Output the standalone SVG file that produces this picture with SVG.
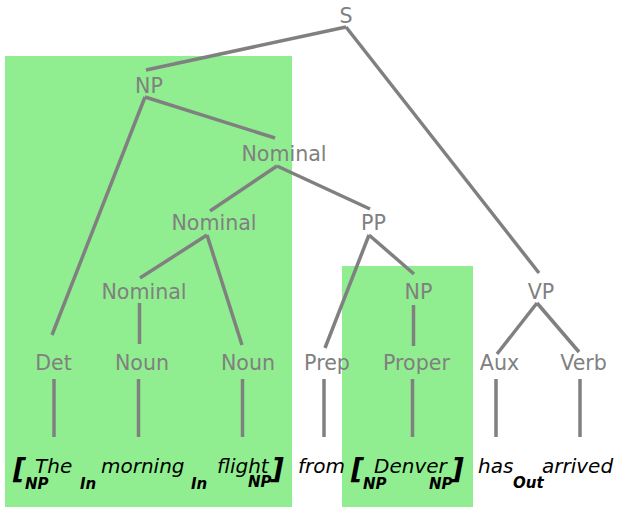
<svg xmlns="http://www.w3.org/2000/svg" width="619" height="507" viewBox="0 0 619 507">
<style>
.lbl{font-family:"DejaVu Sans",sans-serif;font-size:20.6px;fill:#808080;text-anchor:middle}
.w{font-family:"DejaVu Sans",sans-serif;font-size:20px;font-style:italic;fill:#000}
.s{font-family:"DejaVu Sans",sans-serif;font-size:15px;font-style:italic;font-weight:bold;fill:#000}
.b{font-family:"DejaVu Sans",sans-serif;font-size:28px;font-style:italic;font-weight:bold;fill:#000}
.e line{stroke:#808080;stroke-width:3.5}
</style>
<rect x="5" y="56" width="287" height="451" fill="#90EE90"/>
<rect x="342" y="266" width="131" height="241" fill="#90EE90"/>
<g class="e" id="connectors">
<line x1="346" y1="27" x2="146" y2="70"/>
<line x1="346" y1="27" x2="539" y2="273"/>
<line x1="145" y1="97" x2="275" y2="138"/>
<line x1="145" y1="97" x2="52" y2="335"/>
<line x1="277" y1="166" x2="210" y2="211"/>
<line x1="277" y1="166" x2="370" y2="209"/>
<line x1="207" y1="235" x2="140" y2="278"/>
<line x1="207" y1="235" x2="242" y2="345"/>
<line x1="369" y1="235" x2="325" y2="348"/>
<line x1="369" y1="235" x2="414" y2="274"/>
<line x1="139.5" y1="303" x2="139.5" y2="344"/>
<line x1="413.5" y1="305" x2="413.5" y2="346"/>
<line x1="537" y1="303" x2="497" y2="354"/>
<line x1="537" y1="303" x2="579" y2="352"/>
<line x1="54" y1="379" x2="54" y2="437"/>
<line x1="138.5" y1="379" x2="138.5" y2="437"/>
<line x1="242.5" y1="379" x2="242.5" y2="437"/>
<line x1="324" y1="379" x2="324" y2="437"/>
<line x1="412.5" y1="379" x2="412.5" y2="437"/>
<line x1="496" y1="379" x2="496" y2="437"/>
<line x1="580" y1="379" x2="580" y2="437"/>
</g>
<g id="S"><text class="lbl" x="346" y="23">S</text></g>
<g id="NP1"><text class="lbl" x="149" y="93">NP</text></g>
<g id="Nominal1"><text class="lbl" x="284" y="161">Nominal</text></g>
<g id="Nominal2"><text class="lbl" x="214" y="230">Nominal</text></g>
<g id="PP"><text class="lbl" x="373.5" y="230">PP</text></g>
<g id="Nominal3"><text class="lbl" x="144" y="299">Nominal</text></g>
<g id="NP2"><text class="lbl" x="418.5" y="299">NP</text></g>
<g id="VP"><text class="lbl" x="541" y="299">VP</text></g>
<g id="Det"><text class="lbl" x="53.5" y="370">Det</text></g>
<g id="Noun1"><text class="lbl" x="142" y="370">Noun</text></g>
<g id="Noun2"><text class="lbl" x="248" y="370">Noun</text></g>
<g id="Prep"><text class="lbl" x="327" y="370">Prep</text></g>
<g id="Proper"><text class="lbl" x="416.5" y="370">Proper</text></g>
<g id="Aux"><text class="lbl" x="499.5" y="370">Aux</text></g>
<g id="Verb"><text class="lbl" x="583.5" y="370">Verb</text></g>
<g id="words">
<text class="b" x="13" y="479">[</text>
<text class="s" x="25" y="489">NP</text>
<text class="w" x="35" y="473">The</text>
<text class="s" x="80" y="489">In</text>
<text class="w" x="101" y="473">morning</text>
<text class="s" x="191" y="489">In</text>
<text class="w" x="217" y="473">flight</text>
<text class="s" x="248" y="487">NP</text>
<text class="b" x="271" y="479">]</text>
<text class="w" x="298" y="473">from</text>
<text class="b" x="351" y="479">[</text>
<text class="s" x="363" y="489">NP</text>
<text class="w" x="374" y="473">Denver</text>
<text class="s" x="429" y="489">NP</text>
<text class="b" x="451" y="479">]</text>
<text class="w" x="478" y="473">has</text>
<text class="s" x="513" y="488">Out</text>
<text class="w" x="542" y="473">arrived</text>
</g>
</svg>
